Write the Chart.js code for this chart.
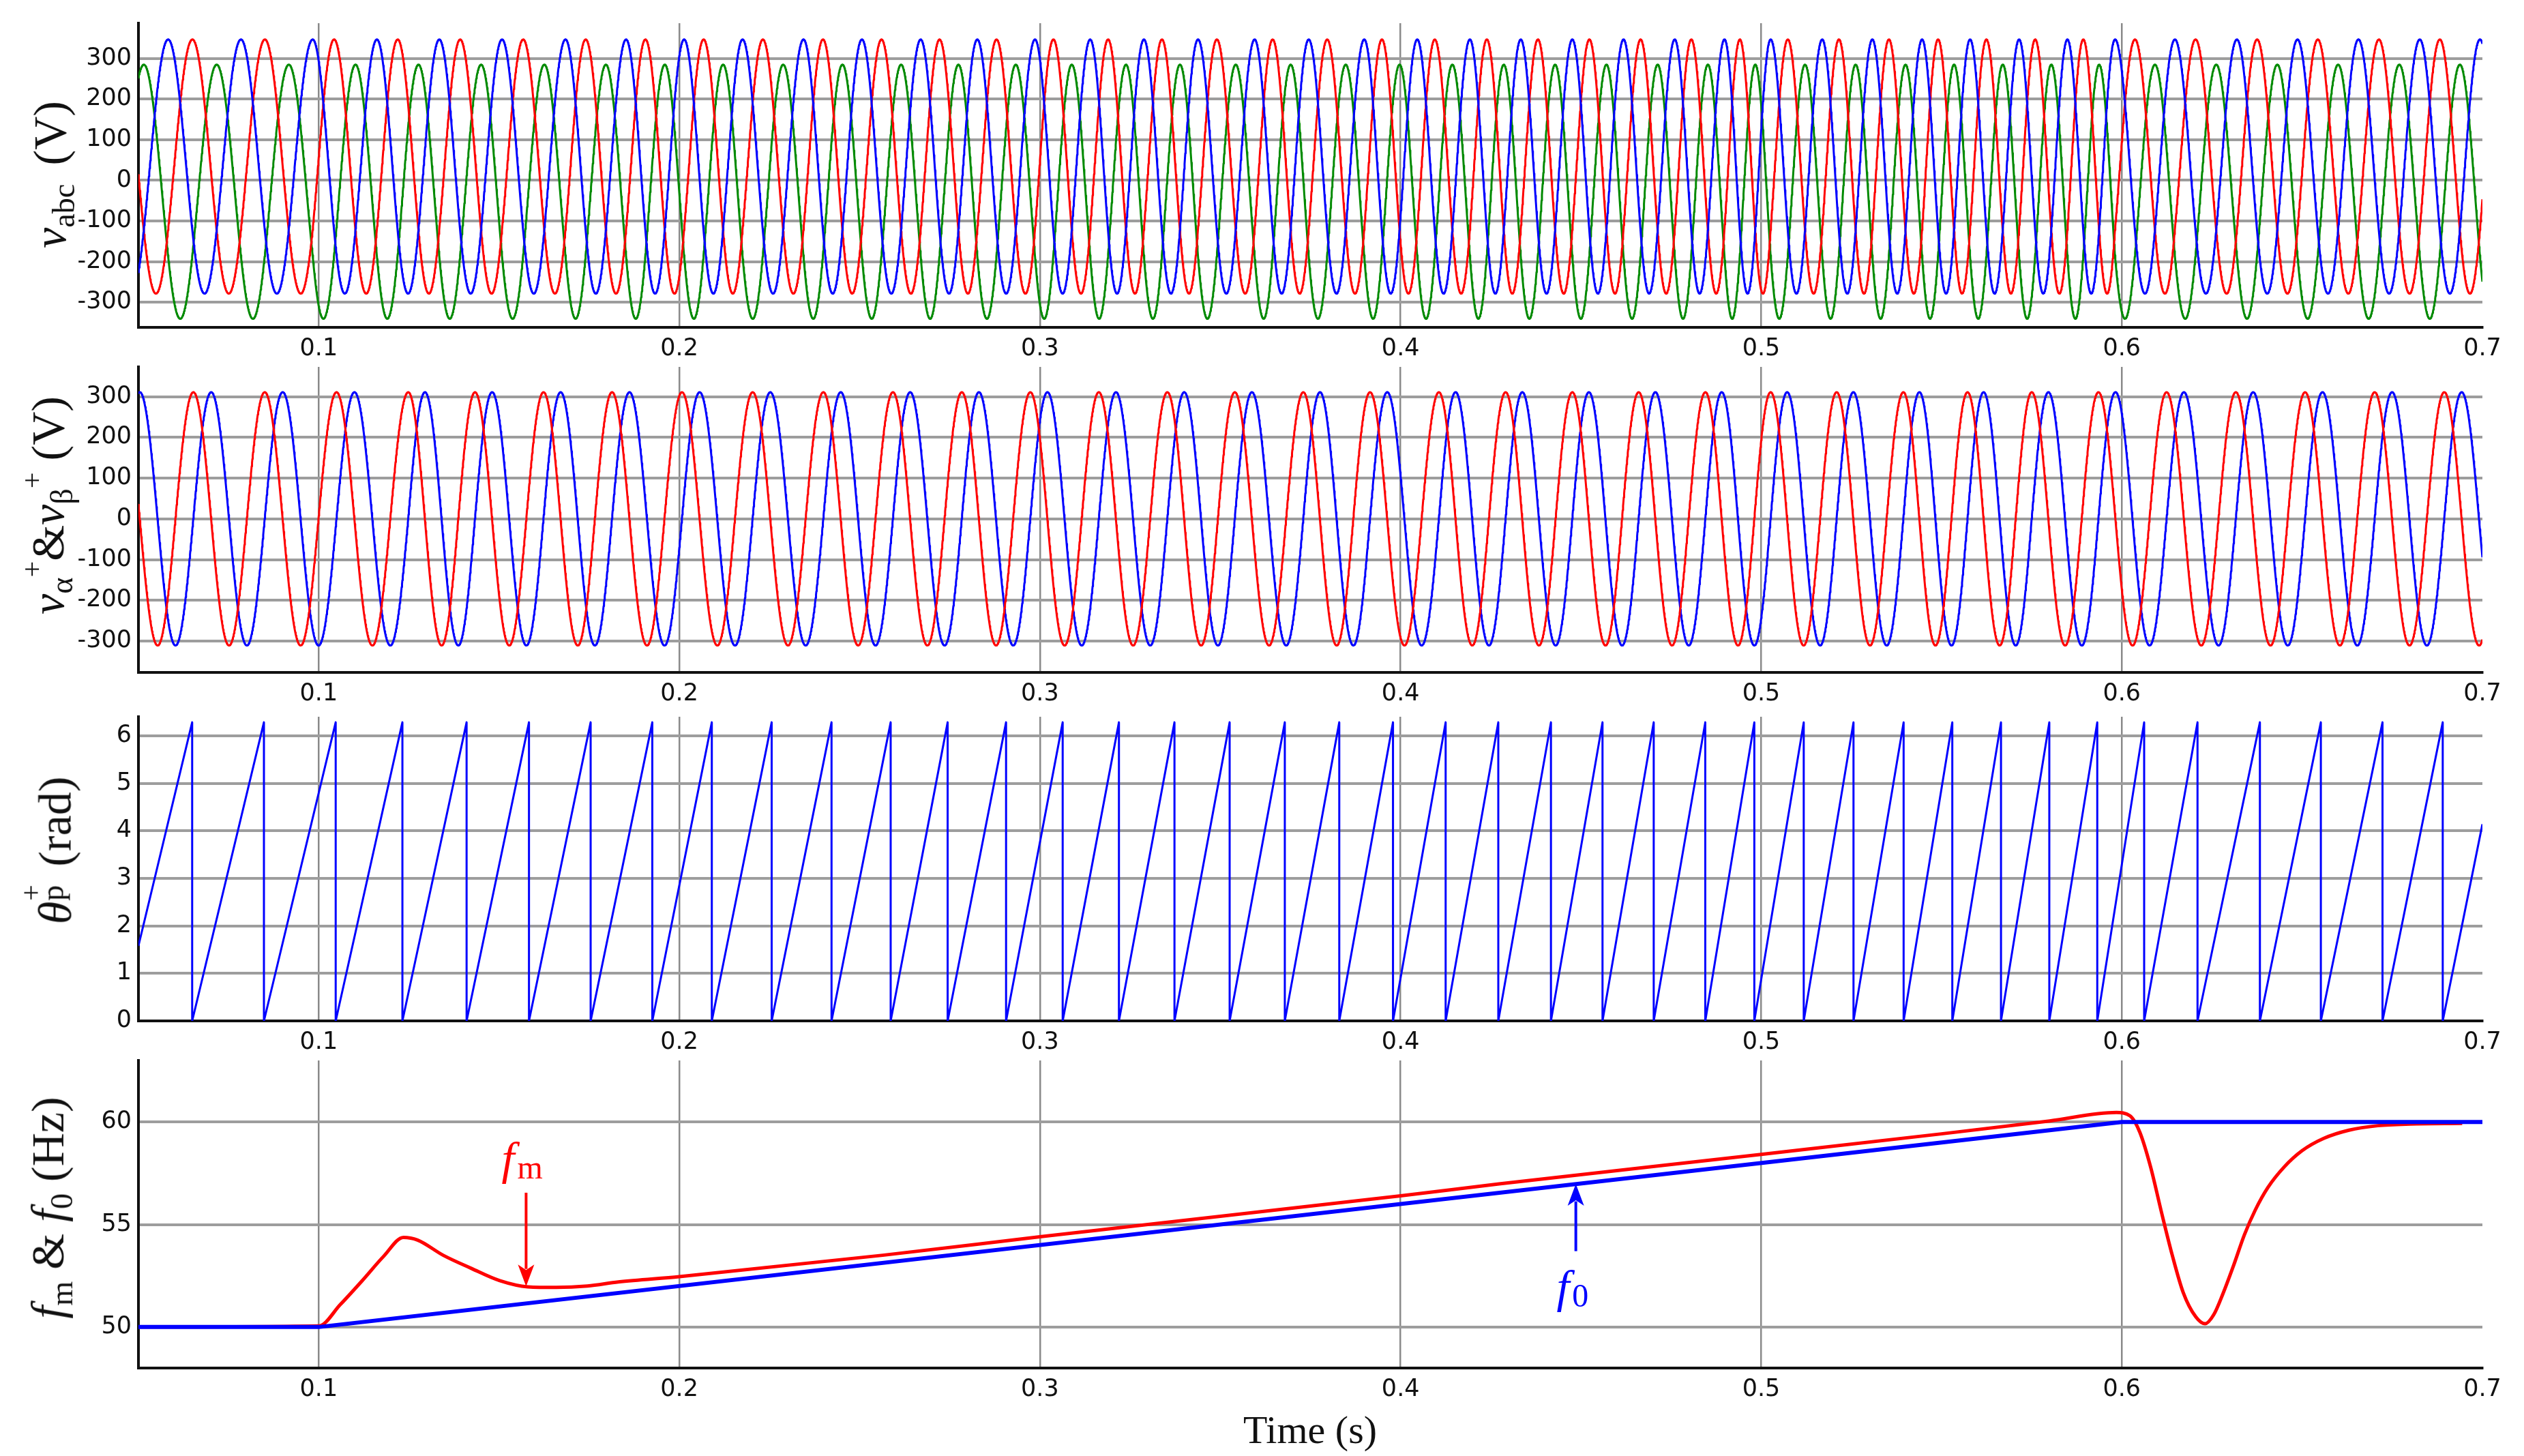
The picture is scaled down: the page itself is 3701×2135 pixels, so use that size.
<!DOCTYPE html>
<html>
<head>
<meta charset="utf-8">
<script src="https://cdn.jsdelivr.net/npm/chart.js@4.4.1/dist/chart.umd.min.js"></script>
<style>
  body { margin: 0; background: #fff; width: 3701px; height: 2135px; position: relative; overflow: hidden; }
  canvas { position: absolute; left: 0; }
  .ytitle {
    position: absolute; transform: translate(-50%, -50%) rotate(-90deg);
    white-space: nowrap; font-family: "Liberation Serif", serif; font-size: 68px; line-height: 1; color: #111;
  }
  .ytitle sub { font-size: 0.68em; vertical-align: -0.28em; }
  .ytitle sup { font-size: 0.62em; vertical-align: 0.75em; }
  .ytitle .ss { display: inline-block; position: relative; width: 0.5em; height: 1em; }
  .ytitle .ss sup, .ytitle .ss sub { position: absolute; left: 0.02em; }
  .ytitle .ss sup { top: -0.25em; }
  .ytitle .ss sub { top: 0.42em; }
  .ytitle .gap { display: inline-block; width: 0.4em; }
  #xtitle { position: absolute; left: 1921px; top: 2068px; transform: translateX(-50%);
    font-family: "Liberation Serif", serif; font-size: 58px; line-height: 1; color: #111; }
</style>
</head>
<body>
<canvas id="pAbc" width="3701" height="537" style="top:3px"></canvas>
<canvas id="pAlphaBeta" width="3701" height="539" style="top:507px"></canvas>
<canvas id="pTheta" width="3701" height="537" style="top:1020px"></canvas>
<canvas id="pFreq" width="3701" height="542" style="top:1524px"></canvas>

<div class="ytitle" style="left:78px; top:256px"><i>v</i><sub>abc</sub><span class="gap"></span>(V)</div>
<div class="ytitle" style="left:70px; top:741px"><i>v</i><sub>α</sub><sup>+</sup>&amp;<i>v</i><sub>β</sub><sup>+</sup>&nbsp;(V)</div>
<div class="ytitle" style="left:75px; top:1247px"><i>θ</i><span class="ss"><sup>+</sup><sub>p</sub></span>&nbsp;(rad)</div>
<div class="ytitle" style="left:75px; top:1771px"><i>f</i><sub>m</sub> &amp; <i>f</i><sub>0</sub>&nbsp;(Hz)</div>
<div id="xtitle">Time (s)</div>

<script>
// ---- time axis ----
const tStart = 0.05;
const tEnd = 0.7;
const sampleStep = 0.0001;
const timeTicks = [0.1, 0.2, 0.3, 0.4, 0.5, 0.6, 0.7];

// ---- panel 1 : v_abc ----
const vabcTicks = [-300, -200, -100, 0, 100, 200, 300];
const vabcRange = [-362, 387];
// times of the blue phase maxima
const vabcPeakTimes = [0.0582, 0.0784, 0.0983, 0.1161, 0.1334, 0.1508, 0.1684, 0.1852, 0.2013, 0.2175,
  0.2344, 0.2506, 0.2669, 0.2826, 0.2986, 0.3139, 0.3288, 0.3438, 0.3595, 0.3745,
  0.3899, 0.4046, 0.4192, 0.4333, 0.4476, 0.4618, 0.4760, 0.4898, 0.5026, 0.5169,
  0.5308, 0.5446, 0.5579, 0.5715, 0.5849, 0.5981, 0.6147, 0.6319, 0.6487, 0.6656,
  0.6826, 0.6993];
const vabcAmplitude = 313;
const vabcOffsets = [34, 34, -28];      // blue, red, green
const vabcShifts = [0, -1 / 3, 1 / 3];  // in cycles, relative to blue
const vabcColors = ['#0000ff', '#ff0000', '#008a00'];

// ---- panel 2 : v_alpha+ & v_beta+ ----
const vabRange = [-377, 373];
// times of the red (alpha) maxima
const vabPeakTimes = [0.0652, 0.0850, 0.1049, 0.1248, 0.1433, 0.1623, 0.1813, 0.2007, 0.2203, 0.2399,
  0.2592, 0.2783, 0.2973, 0.3163, 0.3353, 0.3540, 0.3730, 0.3915, 0.4106, 0.4291,
  0.4476, 0.4660, 0.4845, 0.5026, 0.5209, 0.5394, 0.5572, 0.5750, 0.5935, 0.6124,
  0.6316, 0.6508, 0.6701, 0.6894];
const vabAmplitude = 311;
const vabShifts = [0, -0.25];           // alpha, beta
const vabColors = ['#ff0000', '#0000ff'];

// ---- panel 3 : theta_p+ ----
const thetaTicks = [0, 1, 2, 3, 4, 5, 6];
const thetaRange = [0, 6.4];
// times where the phase wraps from 2*pi back to 0
const thetaWrapTimes = [0.0649, 0.0848, 0.1047, 0.1232, 0.1410, 0.1583, 0.1754, 0.1925, 0.2090, 0.2256,
  0.2422, 0.2586, 0.2744, 0.2906, 0.3063, 0.3219, 0.3373, 0.3526, 0.3679, 0.3830,
  0.3979, 0.4125, 0.4271, 0.4417, 0.4560, 0.4702, 0.4845, 0.4981, 0.5118, 0.5256,
  0.5395, 0.5530, 0.5665, 0.5799, 0.5932, 0.6062, 0.6210, 0.6383, 0.6552, 0.6723,
  0.6890];

// ---- panel 4 : f_m & f_0 ----
const freqTicks = [50, 55, 60];
const freqRange = [48, 63];
const f0Times = [0.05, 0.1, 0.6, 0.7];
const f0Values = [50, 50, 60, 60];
const fmTimes = [0.05, 0.1, 0.106, 0.112, 0.118, 0.1235, 0.1274, 0.1345, 0.1423, 0.1502,
  0.158, 0.1658, 0.1745, 0.1831, 0.2, 0.2564, 0.3, 0.35, 0.4, 0.4273,
  0.5, 0.55, 0.58, 0.5985, 0.6023, 0.605, 0.608, 0.611, 0.614, 0.617,
  0.6205, 0.6231, 0.6255, 0.628, 0.631, 0.634, 0.637, 0.6405, 0.645, 0.65,
  0.656, 0.663, 0.671, 0.68, 0.6944];
const fmValues = [50, 50.05, 51.1, 52.25, 53.45, 54.37, 54.24, 53.5, 52.86, 52.26,
  51.96, 51.93, 52.0, 52.2, 52.46, 53.5, 54.4, 55.4, 56.4, 56.98,
  58.42, 59.42, 60.05, 60.46, 60.3, 59.5, 57.8, 55.6, 53.5, 51.7,
  50.5, 50.16, 50.6, 51.6, 53.0, 54.5, 55.7, 56.8, 57.8, 58.6,
  59.2, 59.6, 59.82, 59.9, 59.93];

// annotation anchors (time, value)
const fmArrow = [0.1575, 56.55, 51.98];   // time, tail, tip
const f0Arrow = [0.4486, 53.7, 56.98];
const fmLabel = [0.1564, 57.25];
const f0Label = [0.4477, 51.0];

// cycles elapsed since the first mark, linear between marks
function cyclesAt(marks, t) {
  let k = 0;
  while (k < marks.length - 2 && t >= marks[k + 1]) k++;
  return k + (t - marks[k]) / (marks[k + 1] - marks[k]);
}

function sineSeries(marks, amp, shift, offset) {
  const pts = [];
  for (let i = 0; ; i++) {
    const t = tStart + i * sampleStep;
    if (t > tEnd + 1e-9) break;
    const c = cyclesAt(marks, t);
    pts.push({ x: t, y: amp * Math.cos(2 * Math.PI * (c + shift)) + offset });
  }
  return pts;
}

function sawtoothSeries(wraps) {
  const full = 2 * Math.PI;
  const frac = (c) => c - Math.floor(c);
  const pts = [{ x: tStart, y: full * frac(cyclesAt(wraps, tStart)) }];
  wraps.forEach((w) => {
    if (w > tStart && w < tEnd) {
      pts.push({ x: w, y: full });
      pts.push({ x: w, y: 0 });
    }
  });
  pts.push({ x: tEnd, y: full * frac(cyclesAt(wraps, tEnd)) });
  return pts;
}

const pairs = (xs, ys) => xs.map((x, i) => ({ x, y: ys[i] }));

const tickFont = { family: "'DejaVu Sans'", size: 35 };

function panelOptions(yRange, yTicks) {
  return {
    responsive: false,
    devicePixelRatio: 1,
    animation: false,
    events: [],
    layout: { padding: { left: 0, right: 61, top: 20, bottom: 0 } },
    plugins: { legend: { display: false }, tooltip: { enabled: false } },
    elements: { point: { radius: 0 }, line: { borderJoinStyle: 'round', tension: 0 } },
    scales: {
      x: {
        type: 'linear',
        min: tStart,
        max: tEnd,
        afterFit: (s) => { s.height = 60; },
        afterBuildTicks: (s) => { s.ticks = timeTicks.map((v) => ({ value: v })); },
        ticks: { font: tickFont, color: '#111', padding: 11, autoSkip: false, maxRotation: 0,
          callback: (v) => String(v) },
        grid: {
          drawTicks: false,
          lineWidth: 2.5,
          color: (c) => (c.tick && c.tick.value >= tEnd ? 'rgba(0,0,0,0)' : '#8a8a8a'),
        },
        border: { display: true, color: '#111', width: 4 },
      },
      y: {
        type: 'linear',
        min: yRange[0],
        max: yRange[1],
        afterFit: (s) => { s.width = 203; },
        afterBuildTicks: (s) => { s.ticks = yTicks.map((v) => ({ value: v })); },
        ticks: { font: tickFont, color: '#111', padding: 10, callback: (v) => String(v) },
        grid: { drawTicks: false, lineWidth: 4, color: '#9d9d9d' },
        border: { display: true, color: '#111', width: 4 },
      },
    },
  };
}

function lineSet(data, color, width) {
  return { data, borderColor: color, borderWidth: width, pointRadius: 0, fill: false };
}

// panel 1
new Chart(document.getElementById('pAbc'), {
  type: 'line',
  data: {
    datasets: vabcColors.map((col, i) =>
      lineSet(sineSeries(vabcPeakTimes, vabcAmplitude, vabcShifts[i], vabcOffsets[i]), col, 3)),
  },
  options: panelOptions(vabcRange, vabcTicks),
});

// panel 2
new Chart(document.getElementById('pAlphaBeta'), {
  type: 'line',
  data: {
    datasets: vabColors.map((col, i) =>
      lineSet(sineSeries(vabPeakTimes, vabAmplitude, vabShifts[i], 0), col, 3)),
  },
  options: panelOptions(vabRange, vabcTicks),
});

// panel 3
new Chart(document.getElementById('pTheta'), {
  type: 'line',
  data: { datasets: [lineSet(sawtoothSeries(thetaWrapTimes), '#0000ff', 3)] },
  options: panelOptions(thetaRange, thetaTicks),
});

// panel 4 annotations: arrows and f_m / f_0 labels
function drawArrow(ctx, x, yTail, yTip, color) {
  const dir = Math.sign(yTip - yTail);
  const len = 32, half = 12;
  ctx.save();
  ctx.strokeStyle = color;
  ctx.fillStyle = color;
  ctx.lineWidth = 4;
  ctx.beginPath();
  ctx.moveTo(x, yTail);
  ctx.lineTo(x, yTip - dir * len * 0.8);
  ctx.stroke();
  ctx.beginPath();
  ctx.moveTo(x, yTip);
  ctx.lineTo(x - half, yTip - dir * len);
  ctx.lineTo(x, yTip - dir * len * 0.75);
  ctx.lineTo(x + half, yTip - dir * len);
  ctx.closePath();
  ctx.fill();
  ctx.restore();
}

function drawSubLabel(ctx, cx, baseY, sub, color) {
  ctx.save();
  ctx.fillStyle = color;
  ctx.textBaseline = 'alphabetic';
  ctx.font = 'italic 68px "Liberation Serif"';
  const wf = ctx.measureText('f').width;
  ctx.font = '48px "Liberation Serif"';
  const ws = ctx.measureText(sub).width;
  const x0 = cx - (wf + ws + 4) / 2;
  ctx.font = 'italic 68px "Liberation Serif"';
  ctx.fillText('f', x0, baseY - 6);
  ctx.font = '48px "Liberation Serif"';
  ctx.fillText(sub, x0 + wf + 4, baseY);
  ctx.restore();
}

const annotations = {
  id: 'annotations',
  afterDatasetsDraw(chart) {
    const { ctx, scales: { x, y } } = chart;
    drawArrow(ctx, x.getPixelForValue(fmArrow[0]), y.getPixelForValue(fmArrow[1]),
      y.getPixelForValue(fmArrow[2]), '#ff0000');
    drawArrow(ctx, x.getPixelForValue(f0Arrow[0]), y.getPixelForValue(f0Arrow[1]),
      y.getPixelForValue(f0Arrow[2]), '#0000ff');
    drawSubLabel(ctx, x.getPixelForValue(fmLabel[0]), y.getPixelForValue(fmLabel[1]), 'm', '#ff0000');
    drawSubLabel(ctx, x.getPixelForValue(f0Label[0]), y.getPixelForValue(f0Label[1]), '0', '#0000ff');
  },
};

new Chart(document.getElementById('pFreq'), {
  type: 'line',
  data: {
    datasets: [
      lineSet(pairs(f0Times, f0Values), '#0000ff', 6),
      Object.assign(lineSet(pairs(fmTimes, fmValues), '#ff0000', 5), { cubicInterpolationMode: 'monotone' }),
    ],
  },
  options: panelOptions(freqRange, freqTicks),
  plugins: [annotations],
});
</script>
</body>
</html>
